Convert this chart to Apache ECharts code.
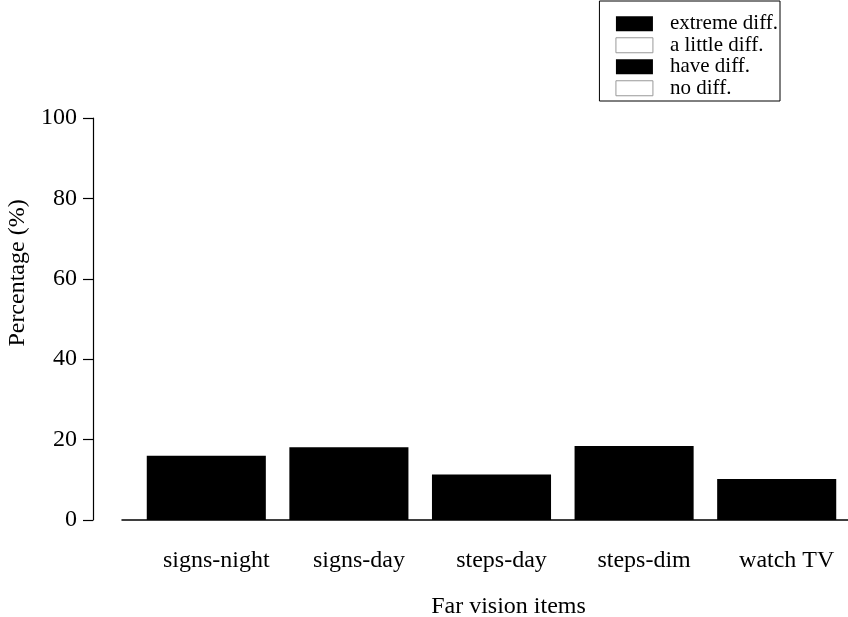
<!DOCTYPE html>
<html>
<head>
<meta charset="utf-8">
<script src="https://cdn.jsdelivr.net/npm/echarts@6/dist/echarts.min.js"></script>
<style>
html,body{margin:0;padding:0;background:#fff;}
#chart{width:848px;height:617px;}
</style>
</head>
<body>
<div id="chart"></div>
<script>
const categories = ['signs-night', 'signs-day', 'steps-day', 'steps-dim', 'watch TV'];
const seriesNames = ['extreme diff.', 'a little diff.', 'have diff.', 'no diff.'];
const extremeDiff = [16.0, 18.1, 11.3, 18.4, 10.2];
const littleDiff = [];
const haveDiff = [];
const noDiff = [];
const yTicks = [0, 20, 40, 60, 80, 100];

const FONT = 'Liberation Serif';
const FS = 24;
const LFS = 21;

const chart = echarts.init(document.getElementById('chart'), null, {renderer: 'canvas'});

const seriesData = [extremeDiff, littleDiff, haveDiff, noDiff];
const fills = ['#000000', '#ffffff', '#000000', '#ffffff'];

const series = seriesNames.map((name, i) => ({
  name: name,
  type: 'bar',
  stack: 'total',
  xAxisIndex: 0,
  yAxisIndex: 0,
  data: seriesData[i],
  barCategoryGap: '16.5%',
  itemStyle: {color: fills[i], borderWidth: 0},
  emphasis: {disabled: true},
  animation: false
}));

chart.setOption({
  animation: false,
  backgroundColor: '#ffffff',
  textStyle: {fontFamily: FONT},
  grid: [
    {left: 135, right: 0, top: 118, bottom: 97, containLabel: false, outerBoundsMode: 'none'},
    {left: 122, right: 0, top: 118, bottom: 97, containLabel: false, outerBoundsMode: 'none'}
  ],
  legend: {
    orient: 'vertical',
    right: 68,
    top: 1,
    padding: [12, 2, 2, 16],
    itemGap: 0,
    itemWidth: 37,
    itemHeight: 15,
    borderColor: '#000',
    borderWidth: 1,
    textStyle: {fontFamily: FONT, fontSize: LFS, lineHeight: 21.5, color: '#000', padding: [0, 0, 0, 12]},
    data: seriesNames.map((n, i) => ({
      name: n,
      icon: 'rect',
      itemStyle: {color: fills[i], borderColor: fills[i] === '#ffffff' ? '#999' : '#000', borderWidth: fills[i] === '#ffffff' ? 1 : 0}
    })),
    selectedMode: false
  },
  xAxis: [
    {
      type: 'category',
      gridIndex: 0,
      data: categories,
      axisLine: {show: false},
      axisTick: {show: false},
      axisLabel: {fontFamily: FONT, fontSize: FS, color: '#000', margin: 29, padding: [0, 0, 0, 20]},
      name: 'Far vision items',
      nameLocation: 'middle',
      nameGap: 75,
      nameTextStyle: {fontFamily: FONT, fontSize: FS, color: '#000', padding: [0, 0, 0, 34]}
    },
    {
      type: 'category',
      gridIndex: 1,
      data: categories,
      axisLine: {show: true, lineStyle: {color: '#000', width: 1.5}},
      axisTick: {show: false},
      axisLabel: {show: false}
    }
  ],
  yAxis: [
    {
      type: 'value',
      gridIndex: 0,
      min: 0,
      max: 100,
      interval: 20,
      offset: 42,
      splitLine: {show: false},
      axisLine: {show: true, lineStyle: {color: '#000', width: 1.2}},
      axisTick: {show: true, length: 10, lineStyle: {color: '#000', width: 1.2}},
      axisLabel: {fontFamily: FONT, fontSize: FS, color: '#000', margin: 16,
        formatter: v => yTicks.includes(v) ? String(v) : ''},
      name: 'Percentage (%)',
      nameLocation: 'middle',
      nameGap: 61,
      nameRotate: 90,
      nameTextStyle: {fontFamily: FONT, fontSize: FS, color: '#000', padding: [0, 0, 0, 92]}
    },
    {
      type: 'value',
      gridIndex: 1,
      min: 0,
      max: 100,
      show: false
    }
  ],
  series: series
});
</script>
</body>
</html>
